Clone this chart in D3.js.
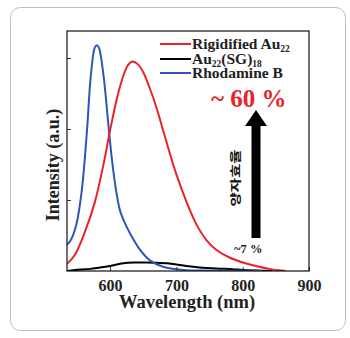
<!DOCTYPE html>
<html><head><meta charset="utf-8">
<script src="https://cdn.jsdelivr.net/npm/d3@7/dist/d3.min.js"></script>
<style>body{margin:0;background:#fff}</style>
</head><body><svg id="c" width="350" height="338"></svg>
<script>
const wavelengthTicks = [600, 700, 800, 900];
const intensityTicks = [1, 2, 3];
const seriesNames = ["Rigidified Au", "Au", "Rhodamine B"];
const seriesColors = ["#e8232b", "#000000", "#2f55bb"];

const rigidWl = [535,547,562,577,590,600,610,620,627,634,642,650,660,670,680,690,700,715,730,745,760,780,800,820,840,855,865];
const rigidI  = [0.10,0.23,0.55,0.97,1.50,1.98,2.42,2.75,2.90,2.95,2.91,2.80,2.57,2.30,1.98,1.66,1.36,0.98,0.66,0.44,0.30,0.19,0.12,0.07,0.03,0.01,0.0];

const au22Wl = [535,555,570,585,600,620,640,655,670,685,700,715,735,760,785,800,830,845];
const au22I  = [0.0,0.02,0.03,0.05,0.07,0.11,0.12,0.12,0.115,0.11,0.09,0.07,0.05,0.035,0.025,0.015,0.005,0];

const rhoWl = [535,541,549,557,565,571,577,580,583,590,597,601,605,610,615,622,630,645,660,680,710,750,800,830];
const rhoI  = [0.37,0.44,0.65,1.11,1.96,2.76,3.15,3.18,3.15,2.76,2.10,1.72,1.40,1.08,0.85,0.68,0.53,0.30,0.15,0.06,0.015,0.005,0.002,0];

const SERIF = '"Liberation Serif"';
const svg = d3.select("#c");
function serif(sel, size){ return sel.style("font-family",SERIF).style("font-weight","bold").style("font-size",size+"px"); }

svg.append("rect").attr("x",10.5).attr("y",7.5).attr("width",335).attr("height",323)
  .attr("rx",10).attr("fill","#fff").attr("stroke","#bdbdbd").attr("stroke-width",1);

const L=67, T=31, R=309, B=271;
const x = d3.scaleLinear().domain([535, 900]).range([L, R]);
const y = d3.scaleLinear().domain([0, 3.38]).range([B, T]);

const series = [
  {wl: rigidWl, v: rigidI},
  {wl: au22Wl, v: au22I},
  {wl: rhoWl, v: rhoI}
];
const line = d3.line().x(d=>x(d[0])).y(d=>y(Math.max(0,d[1]))).curve(d3.curveCatmullRom.alpha(0.5));
svg.append("clipPath").attr("id","pc").append("rect")
  .attr("x",L).attr("y",T-5).attr("width",R-L).attr("height",B-T+5);
[1,2,0].forEach(i=>{
  const s = series[i];
  svg.append("path").attr("clip-path","url(#pc)")
    .datum(s.wl.map((w,k)=>[w,s.v[k]]))
    .attr("d",line).attr("fill","none")
    .attr("stroke",seriesColors[i]).attr("stroke-width",2);
});

const xa = svg.append("g").attr("transform",`translate(0,${B})`)
  .call(d3.axisBottom(x).tickValues(wavelengthTicks).tickSize(-4).tickPadding(9).tickFormat(d3.format("d")));
xa.select(".domain").remove();
serif(xa.selectAll("text"),16).attr("fill","#222");
xa.selectAll("line").attr("stroke","#333");
const ya = svg.append("g").attr("transform",`translate(${L},0)`)
  .call(d3.axisLeft(y).tickValues(intensityTicks).tickSize(-4).tickFormat(""));
ya.select(".domain").remove();
ya.selectAll("line").attr("stroke","#333");

svg.append("rect").attr("x",L).attr("y",T).attr("width",R-L).attr("height",B-T)
  .attr("fill","none").attr("stroke","#111").attr("stroke-width",1.2);

serif(svg.append("text"),18.5).attr("x",187).attr("y",308).attr("text-anchor","middle")
  .attr("fill","#222").text("Wavelength (nm)");
serif(svg.append("text"),18).attr("transform","translate(59,165) rotate(-90)").attr("text-anchor","middle")
  .attr("fill","#222").text("Intensity (a.u.)");

const legY = [44, 59, 73];
seriesNames.forEach((n,i)=>{
  svg.append("line").attr("x1",160).attr("x2",191).attr("y1",legY[i]).attr("y2",legY[i])
    .attr("stroke",seriesColors[i]).attr("stroke-width",2);
  const t = serif(svg.append("text"),15.5).attr("x",192).attr("y",legY[i]+5).attr("fill","#222");
  if(i===0){
    t.append("tspan").text("Rigidified Au");
    t.append("tspan").style("font-size","9.5px").attr("dy",3).text("22");
  } else if(i===1){
    t.append("tspan").text("Au");
    t.append("tspan").style("font-size","9.5px").attr("dy",3).text("22");
    t.append("tspan").attr("dy",-3).text("(SG)");
    t.append("tspan").style("font-size","9.5px").attr("dy",3).text("18");
  } else {
    t.text(n);
  }
});

serif(svg.append("text"),25).attr("x",211).attr("y",107).attr("fill","#e8232b").text("~ 60 %");
const ax = 256;
svg.append("path")
  .attr("d",`M${ax-4.5},238 L${ax-4.5},126 L${ax-11},126 L${ax},110 L${ax+11},126 L${ax+4.5},126 L${ax+4.5},238 Z`)
  .attr("fill","#000");
svg.append("text").attr("transform","translate(240,178) rotate(-90) scale(1.35,1)")
  .attr("text-anchor","middle")
  .style("font-family",'"Noto Sans CJK KR"').style("font-weight","700").style("font-size","11.5px").attr("fill","#111")
  .text("양자효율");
serif(svg.append("text"),12.5).attr("x",234).attr("y",253).attr("fill","#222").text("~7 %");
</script></body></html>
